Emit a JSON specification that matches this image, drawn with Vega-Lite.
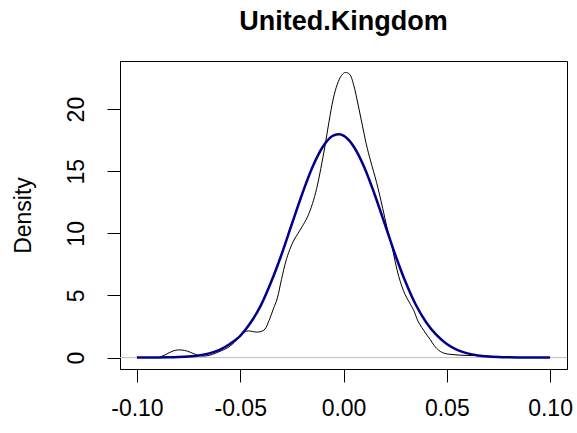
{
  "$schema": "https://vega.github.io/schema/vega-lite/v6.json",
  "width": 447,
  "height": 308,
  "autosize": {"type": "none"},
  "padding": {"left": 120, "top": 61, "right": 10, "bottom": 64},
  "background": "white",
  "title": {
    "text": "United.Kingdom",
    "font": "Liberation Sans",
    "fontSize": 27,
    "fontWeight": "bold",
    "color": "black",
    "anchor": "middle",
    "offset": 25
  },
  "config": {
    "view": {"stroke": "black", "strokeWidth": 1},
    "axis": {
      "labelFont": "Liberation Sans",
      "titleFont": "Liberation Sans",
      "labelFontSize": 23,
      "titleFontSize": 23,
      "labelColor": "black",
      "titleColor": "black",
      "titleFontWeight": "normal",
      "domainColor": "black",
      "tickColor": "black",
      "tickSize": 13,
      "grid": false
    }
  },
  "layer": [
    {
      "data": {"values": [{"y": 0}]},
      "mark": {"type": "rule", "color": "#bebebe", "strokeWidth": 1},
      "encoding": {
        "y": {"field": "y", "type": "quantitative", "scale": {"domain": [-0.918, 23.87], "nice": false, "zero": false}}
      }
    },
    {
      "data": {"values": [
        {"x": -0.089, "d": 0.03}, {"x": -0.086, "d": 0.25}, {"x": -0.083, "d": 0.5}, {"x": -0.080, "d": 0.62},
        {"x": -0.077, "d": 0.58}, {"x": -0.074, "d": 0.42}, {"x": -0.071, "d": 0.22}, {"x": -0.068, "d": 0.12},
        {"x": -0.065, "d": 0.18}, {"x": -0.062, "d": 0.35}, {"x": -0.059, "d": 0.56}, {"x": -0.056, "d": 0.8},
        {"x": -0.053, "d": 1.2}, {"x": -0.050, "d": 1.75}, {"x": -0.048, "d": 2.05}, {"x": -0.046, "d": 2.15},
        {"x": -0.044, "d": 2.1}, {"x": -0.042, "d": 2.05}, {"x": -0.040, "d": 2.1}, {"x": -0.038, "d": 2.3},
        {"x": -0.036, "d": 3.0}, {"x": -0.034, "d": 3.9}, {"x": -0.032, "d": 4.8}, {"x": -0.030, "d": 6.3},
        {"x": -0.028, "d": 7.7}, {"x": -0.026, "d": 8.7}, {"x": -0.024, "d": 9.46}, {"x": -0.022, "d": 10.0},
        {"x": -0.020, "d": 10.55}, {"x": -0.0175, "d": 11.3}, {"x": -0.015, "d": 12.4}, {"x": -0.013, "d": 13.6},
        {"x": -0.011, "d": 15.2}, {"x": -0.009, "d": 17.0}, {"x": -0.007, "d": 19.0}, {"x": -0.005, "d": 20.8},
        {"x": -0.003, "d": 22.0}, {"x": -0.001, "d": 22.7}, {"x": 0.001, "d": 22.95}, {"x": 0.003, "d": 22.8},
        {"x": 0.005, "d": 21.9}, {"x": 0.007, "d": 20.4}, {"x": 0.009, "d": 18.8}, {"x": 0.011, "d": 17.2},
        {"x": 0.013, "d": 15.9}, {"x": 0.016, "d": 14.1}, {"x": 0.019, "d": 12.0}, {"x": 0.021, "d": 10.5},
        {"x": 0.0235, "d": 8.9}, {"x": 0.026, "d": 7.0}, {"x": 0.029, "d": 5.4}, {"x": 0.032, "d": 4.4},
        {"x": 0.034, "d": 3.8}, {"x": 0.036, "d": 2.95}, {"x": 0.038, "d": 2.4}, {"x": 0.040, "d": 1.9},
        {"x": 0.042, "d": 1.45}, {"x": 0.044, "d": 0.95}, {"x": 0.046, "d": 0.6}, {"x": 0.048, "d": 0.4},
        {"x": 0.050, "d": 0.3}, {"x": 0.053, "d": 0.24}, {"x": 0.056, "d": 0.2}, {"x": 0.060, "d": 0.17},
        {"x": 0.065, "d": 0.16}, {"x": 0.070, "d": 0.12}, {"x": 0.073, "d": 0.05}
      ]},
      "mark": {"type": "line", "color": "black", "strokeWidth": 1, "interpolate": "monotone"},
      "encoding": {
        "x": {"field": "x", "type": "quantitative",
              "scale": {"domain": [-0.1082, 0.1082], "nice": false, "zero": false},
              "axis": {"title": null, "values": [-0.1, -0.05, 0, 0.05, 0.1],
                       "labelExpr": "datum.value < -0.0001 ? '-' + format(abs(datum.value), '.2f') : format(abs(datum.value), '.2f')",
                       "labelPadding": 15, "labelBaseline": "top", "labelFlush": false}},
        "y": {"field": "d", "type": "quantitative",
              "scale": {"domain": [-0.918, 23.87], "nice": false, "zero": false},
              "axis": {"title": "Density", "values": [0, 5, 10, 15, 20], "format": "d",
                       "labelAngle": -90, "labelAlign": "center", "labelBaseline": "alphabetic",
                       "labelPadding": 24, "labelFlush": false,
                       "titleAngle": -90, "titleBaseline": "alphabetic", "titleAlign": "center",
                       "titleX": -90, "titleY": 154}}
      }
    },
    {
      "data": {"values": [
        {"x": -0.100, "d": 0.0012}, {"x": -0.095, "d": 0.003}, {"x": -0.090, "d": 0.0076}, {"x": -0.085, "d": 0.018},
        {"x": -0.080, "d": 0.040}, {"x": -0.075, "d": 0.087}, {"x": -0.070, "d": 0.176}, {"x": -0.065, "d": 0.342},
        {"x": -0.060, "d": 0.628}, {"x": -0.055, "d": 1.097}, {"x": -0.050, "d": 1.75}, {"x": -0.045, "d": 2.8},
        {"x": -0.040, "d": 4.2}, {"x": -0.035, "d": 6.1}, {"x": -0.030, "d": 8.3}, {"x": -0.025, "d": 10.75},
        {"x": -0.020, "d": 13.17}, {"x": -0.015, "d": 15.34}, {"x": -0.010, "d": 16.97}, {"x": -0.005, "d": 17.86},
        {"x": -0.0020, "d": 17.97}, {"x": 0.000, "d": 17.86}, {"x": 0.005, "d": 16.97}, {"x": 0.010, "d": 15.34},
        {"x": 0.015, "d": 13.17}, {"x": 0.020, "d": 10.75}, {"x": 0.025, "d": 8.3}, {"x": 0.030, "d": 6.1},
        {"x": 0.035, "d": 4.25}, {"x": 0.040, "d": 2.85}, {"x": 0.045, "d": 1.82}, {"x": 0.050, "d": 1.097},
        {"x": 0.055, "d": 0.628}, {"x": 0.060, "d": 0.342}, {"x": 0.065, "d": 0.176}, {"x": 0.070, "d": 0.087},
        {"x": 0.075, "d": 0.040}, {"x": 0.080, "d": 0.018}, {"x": 0.085, "d": 0.0076}, {"x": 0.090, "d": 0.003},
        {"x": 0.095, "d": 0.0012}, {"x": 0.100, "d": 0.0004}
      ]},
      "mark": {"type": "line", "color": "#00008B", "strokeWidth": 2.5, "interpolate": "monotone"},
      "encoding": {
        "x": {"field": "x", "type": "quantitative"},
        "y": {"field": "d", "type": "quantitative"}
      }
    }
  ]
}
